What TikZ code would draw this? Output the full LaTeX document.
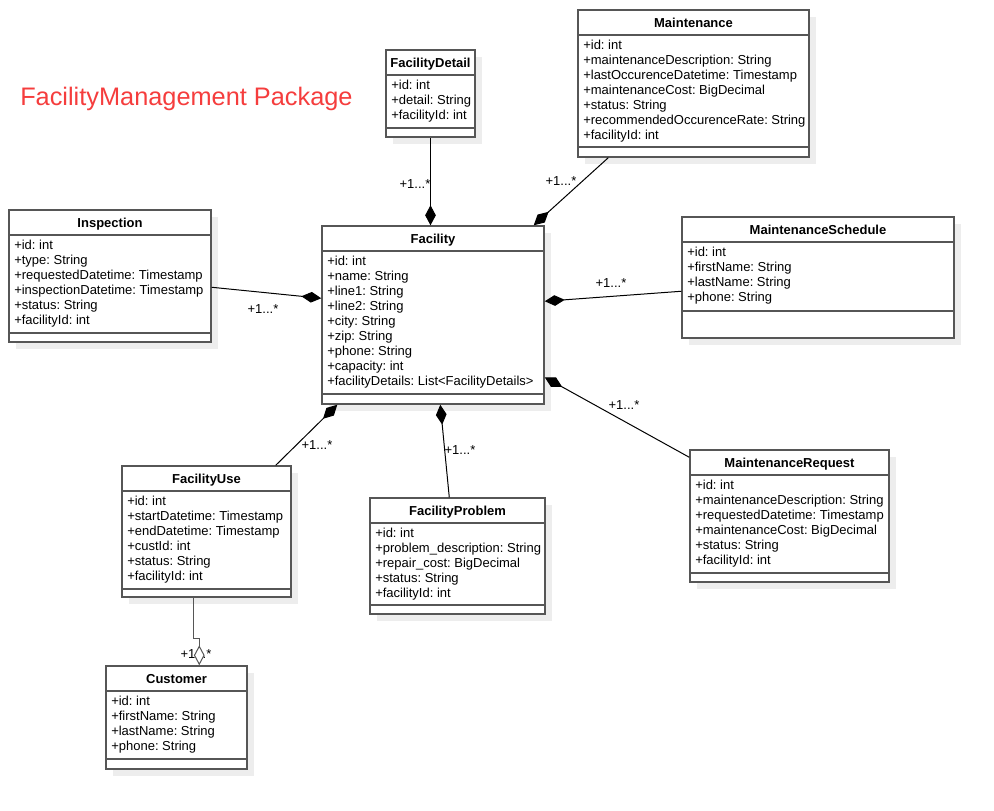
\documentclass[tikz,border=0pt]{standalone}
\usepackage{fontspec}
\setmainfont{Liberation Sans}
\usetikzlibrary{arrows.meta, calc, fit}
\frenchspacing

\definecolor{boxgray}{HTML}{565656}
\definecolor{shadowgray}{HTML}{EDEDED}
\definecolor{titlered}{HTML}{F53D3D}

% Classe UML: nome, x1, y1, x2, y2, divisore inferiore, titolo, attributi
\newcommand{\umlclass}[8]{%
    \fill[shadowgray] (#2+7,#3+7) rectangle (#4+7,#5+7);
    \node[classbox, fit={(#2,#3) (#4,#5)}] (#1) {};
    \node[classtitle] (#1-title) at ({(#2+#4)/2}, #3+17.5) {#7};
    \draw[divider] (#2,#3+25) -- (#4,#3+25);
    \draw[divider] (#2,#6) -- (#4,#6);
    \foreach \riga [count=\n] in {#8}
        \node[attr] at (#2+5, #3+24.5+15*\n) {\riga};
}

\begin{document}
\begin{tikzpicture}[
            x=0.75pt, y=-0.75pt,
            % Stile per le classi
            classbox/.style={draw=boxgray, line width=1.1pt, fill=white, inner sep=0pt},
            divider/.style={boxgray, line width=1.1pt},
            classtitle/.style={anchor=base, inner sep=0pt, font=\fontsize{9.75}{11.75}\selectfont\bfseries},
            attr/.style={anchor=base west, inner sep=0pt, font=\fontsize{9.75}{11.75}\selectfont},
            % Stile per le associazioni
            comp/.style={draw=black, line width=0.75pt, {Diamond[length=15pt, width=8pt]}-},
            aggr/.style={draw=boxgray, line width=0.75pt, {Diamond[length=15pt, width=8pt, fill=white]}-},
            mult/.style={inner sep=0pt, font=\fontsize{9.75}{11.75}\selectfont}
        ]

            \useasboundingbox (0,0) rectangle (994,810);

            % --- Titolo del package ---
            \node[anchor=base west, inner sep=0pt, text=titlered, font=\fontsize{19}{22}\selectfont]
                (pkgname) at (20,105) {FacilityManagement Package};

            % --- Classi ---
            \umlclass{maintenance}{578}{10}{809}{157}{147}{Maintenance}{%
                +id: int, +maintenanceDescription: String, +lastOccurenceDatetime: Timestamp,
                +maintenanceCost: BigDecimal, +status: String,
                +recommendedOccurenceRate: String, +facilityId: int}
            \umlclass{facilitydetail}{386}{50}{475}{137}{128}{FacilityDetail}{%
                +id: int, +detail: String, +facilityId: int}
            \umlclass{inspection}{9}{210}{211}{342}{333}{Inspection}{%
                +id: int, +type: String, +requestedDatetime: Timestamp,
                +inspectionDatetime: Timestamp, +status: String, +facilityId: int}
            \umlclass{facility}{322}{226}{544}{404}{394}{Facility}{%
                +id: int, +name: String, +line1: String, +line2: String, +city: String,
                +zip: String, +phone: String, +capacity: int,
                +facilityDetails: List<FacilityDetails>}
            \umlclass{maintsched}{682}{217}{954}{338}{311}{MaintenanceSchedule}{%
                +id: int, +firstName: String, +lastName: String, +phone: String}
            \umlclass{maintreq}{690}{450}{889}{582}{573}{MaintenanceRequest}{%
                +id: int, +maintenanceDescription: String, +requestedDatetime: Timestamp,
                +maintenanceCost: BigDecimal, +status: String, +facilityId: int}
            \umlclass{facilityuse}{122}{466}{291}{597}{589}{FacilityUse}{%
                +id: int, +startDatetime: Timestamp, +endDatetime: Timestamp,
                +custId: int, +status: String, +facilityId: int}
            \umlclass{facilityproblem}{370}{498}{545}{614}{605}{FacilityProblem}{%
                +id: int, +problem\_description: String, +repair\_cost: BigDecimal,
                +status: String, +facilityId: int}
            \umlclass{customer}{106}{666}{247}{769}{759}{Customer}{%
                +id: int, +firstName: String, +lastName: String, +phone: String}

            % --- Composizioni verso Facility ---
            \draw[comp] (facilitydetail.south |- facility.north) -- (facilitydetail.south);
            \draw[comp] ($(facility.north east)+(-11,0)$) -- ($(maintenance.south west)+(31,0)$);
            \draw[comp] ($(facility.north west)+(0,73)$) -- ($(inspection.north east)+(0,78)$);
            \draw[comp] ($(facility.north east)+(0,76)$) -- ($(maintsched.north west)+(0,75)$);
            \draw[comp] ($(facility.north east)+(0,152)$) -- ($(maintreq.north west)+(0,8)$);
            \draw[comp] ($(facility.south west)+(16,0)$) -- ($(facilityuse.north east)+(-16,0)$);
            \draw[comp] ($(facility.south west)+(119,0)$) -- ($(facilityproblem.north west)+(80,0)$);

            % --- Molteplicita ---
            \node[mult] (m-detail) at (415,184) {+1...*};
            \node[mult] (m-maint) at (561,181) {+1...*};
            \node[mult] (m-insp) at (263,309) {+1...*};
            \node[mult] (m-sched) at (611,283) {+1...*};
            \node[mult] (m-req) at (624,405) {+1...*};
            \node[mult] (m-use) at (317,445) {+1...*};
            \node[mult] (m-prob) at (460,450) {+1...*};
            \node[mult] (m-cust) at (196,654) {+1...*};

            % --- Aggregazione FacilityUse - Customer ---
            \draw[aggr] ($(customer.north west)+(94,0)$) |- ($(facilityuse.south west)+(72,41)$)
                -- ($(facilityuse.south west)+(72,0)$);

        \end{tikzpicture}
\end{document}
